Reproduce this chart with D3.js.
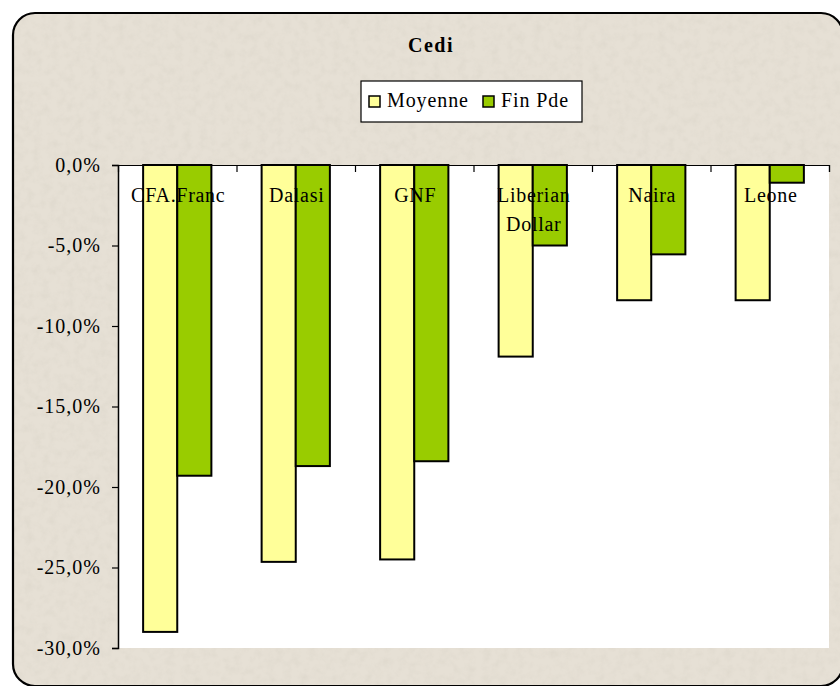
<!DOCTYPE html>
<html>
<head>
<meta charset="utf-8">
<script src="https://cdn.jsdelivr.net/npm/d3@7"></script>
<style>
  html, body { margin: 0; padding: 0; background: #ffffff; }
  svg { display: block; }
</style>
</head>
<body>
<script>
const categories = [["CFA.Franc"], ["Dalasi"], ["GNF"], ["Liberian", "Dollar"], ["Naira"], ["Leone"]];
const seriesNames = ["Moyenne", "Fin Pde"];
const moyenne = [-29.0, -24.65, -24.5, -11.9, -8.4, -8.4];
const finPde = [-19.3, -18.7, -18.4, -5.0, -5.55, -1.1];
const yTicks = [0, -5, -10, -15, -20, -25, -30];
const colors = ["#FFFF99", "#99CC00"];

const FONT = "'Liberation Serif', 'Times New Roman', serif";
const W = 840, H = 686;
const svg = d3.select("body").append("svg").attr("width", W).attr("height", H);

const defs = svg.append("defs");
const filt = defs.append("filter").attr("id", "tex").attr("x", 0).attr("y", 0).attr("width", "100%").attr("height", "100%");
filt.append("feTurbulence").attr("type", "fractalNoise").attr("baseFrequency", 0.12).attr("numOctaves", 3).attr("seed", 4).attr("result", "n");
filt.append("feColorMatrix").attr("in", "n").attr("type", "matrix")
  .attr("values", "0 0 0 0 0.62  0 0 0 0 0.58  0 0 0 0 0.50  0 0 0 -1.2 0.72").attr("result", "c");
filt.append("feComposite").attr("in", "c").attr("in2", "SourceGraphic").attr("operator", "in");

const bx = 13, by = 13, bw = 830, bh = 673, br = 22;
// background
svg.append("rect").attr("x", bx).attr("y", by).attr("width", bw).attr("height", bh).attr("rx", br)
  .attr("fill", "#E6E0D5");
svg.append("rect").attr("x", bx).attr("y", by).attr("width", bw).attr("height", bh).attr("rx", br)
  .attr("fill", "#E6E0D5").attr("filter", "url(#tex)").attr("opacity", 0.4);
svg.append("rect").attr("x", bx).attr("y", by).attr("width", bw).attr("height", bh).attr("rx", br)
  .attr("fill", "none").attr("stroke", "#000").attr("stroke-width", 2.2);

const plot = { left: 118, right: 829, top: 165, bottom: 648 };

const x = d3.scaleBand().domain(d3.range(categories.length)).range([plot.left, plot.right]).paddingInner(0).paddingOuter(0);
const y = d3.scaleLinear().domain([0, -30]).range([plot.top, plot.bottom]);
const barW = x.bandwidth() * 0.288;
const gap = (x.bandwidth() - 2 * barW) / 2;

// plot area
svg.append("rect").attr("x", plot.left).attr("y", plot.top)
  .attr("width", plot.right - plot.left).attr("height", plot.bottom - plot.top).attr("fill", "#ffffff");

// bars
const series = [moyenne, finPde];
series.forEach((vals, si) => {
  svg.append("g").selectAll("rect").data(vals).join("rect")
    .attr("x", (d, i) => x(i) + gap + si * barW)
    .attr("y", y(0))
    .attr("width", barW)
    .attr("height", d => y(d) - y(0))
    .attr("fill", colors[si])
    .attr("stroke", "#000")
    .attr("stroke-width", 2);
});

// y axis
const yAxis = d3.axisLeft(y).tickValues(yTicks).tickSize(6).tickPadding(11)
  .tickFormat(d => d3.format(".1f")(d).replace(".", ",").replace("−", "-") + "%");
const gy = svg.append("g").attr("transform", `translate(${plot.left},0)`).call(yAxis);
gy.select(".domain").attr("stroke", "#000").attr("stroke-width", 1.5);
gy.selectAll(".tick line").attr("stroke", "#000").attr("stroke-width", 1.2);
gy.selectAll(".tick text").attr("font-family", FONT)
  .attr("font-size", 20).attr("fill", "#000").attr("dy", "0.3em").style("letter-spacing", "1px");

// x axis at top (zero line), ticks pointing into plot
const xEdges = d3.scaleLinear().domain([0, categories.length]).range([plot.left, plot.right]);
const xAxis = d3.axisBottom(xEdges).ticks(categories.length).tickSize(7).tickFormat("");
const gx = svg.append("g").attr("transform", `translate(0,${plot.top})`).call(xAxis);
gx.select(".domain").attr("stroke", "#000").attr("stroke-width", 1.2);
gx.selectAll(".tick line").attr("stroke", "#000").attr("stroke-width", 1.2);
gx.selectAll(".tick").filter(d => d === 0).remove();

// category labels
const lab = svg.append("g").selectAll("text").data(categories).join("text")
  .attr("x", (d, i) => x(i) + x.bandwidth() / 2 + 1)
  .attr("y", plot.top + 37)
  .attr("text-anchor", "middle")
  .attr("font-family", FONT)
  .attr("font-size", 20)
  .style("letter-spacing", "0.7px")
  .attr("fill", "#000");
lab.selectAll("tspan").data(d => d).join("tspan")
  .attr("x", function() { return d3.select(this.parentNode).attr("x"); })
  .attr("dy", (d, j) => j === 0 ? 0 : 29)
  .text(d => d);

// title
svg.append("text").attr("x", 431).attr("y", 52).attr("text-anchor", "middle")
  .attr("font-family", FONT)
  .attr("font-size", 20).attr("font-weight", "bold").style("letter-spacing", "1.5px")
  .text("Cedi");

// legend
const lg = svg.append("g");
lg.append("rect").attr("x", 361).attr("y", 81).attr("width", 221).attr("height", 41)
  .attr("fill", "#fff").attr("stroke", "#000").attr("stroke-width", 1.2);
const legX = [369, 483];
seriesNames.forEach((n, i) => {
  lg.append("rect").attr("x", legX[i]).attr("y", 96).attr("width", 11).attr("height", 11)
    .attr("fill", colors[i]).attr("stroke", "#000").attr("stroke-width", 1.5);
  lg.append("text").attr("x", legX[i] + 18).attr("y", 107)
    .attr("font-family", FONT)
    .attr("font-size", 20).style("letter-spacing", "0.9px").text(n);
});
</script>
</body>
</html>
